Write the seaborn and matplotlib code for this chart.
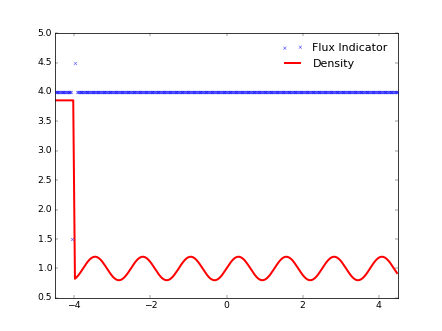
import numpy as np
import pandas as pd
import matplotlib
matplotlib.use("Agg")
import matplotlib.pyplot as plt
import seaborn as sns

plt.style.use("classic")

# cell centres of a 200-cell grid on [-4.5, 4.5] for density
x_density = np.linspace(-4.4775, 4.4775, 200)
# cell centres of a 400-cell grid for the flux indicator
x_flux = np.linspace(-4.48875, 4.48875, 400)

density_milli = [3857] * 11 + [
    825,851,885,924,968,1012,1057,1098,1134,1164,1185,1197,1200,1192,1174,1148,1114,1074,1031,986,942,901,864,835,814,802,801,809,827,854,888,927,971,1016,1060,1101,1137,1166,1187,1198,1199,1191,1172,1145,1111,1071,1027,983,939,898,862,833,813,802,801,810,829,856,891,931,974,1019,1063,1104,1139,1168,1188,1198,1199,1190,1171,1143,1108,1068,1024,979,935,895,859,831,812,801,801,811,830,858,893,934,978,1022,1066,1107,1142,1170,1189,1199,1199,1188,1169,1141,1105,1065,1021,976,932,892,857,829,810,801,802,812,832,861,896,937,981,1026,1069,1109,1144,1171,1190,1199,1198,1187,1167,1138,1102,1061,1017,973,929,889,855,828,809,801,802,813,834,863,899,940,984,1029,1073,1112,1146,1173,1191,1199,1198,1186,1165,1136,1099,1058,1014,969,926,886,852,826,808,800,803,815,836,866,902,943,988,1032,1076,1115,1149,1175,1192,1200,1197,1185,1163,1133,1097,1055,1011,966,923]
density = [v / 1000.0 for v in density_milli]

nan = float("nan")
flux = [4.0] * 19 + [1.5, nan, nan, nan, 4.5, nan] + [4.0] * 375

n = min(len(density), len(x_density))
df_d = pd.DataFrame({"x": x_density[:n], "rho": density[:n]})
df_f = pd.DataFrame({"x": x_flux, "flux": flux[:400]})

fig = plt.figure(figsize=(442 / 55.25, 331 / 55.25), dpi=55.25)
ax = fig.add_subplot(111)

sns.scatterplot(data=df_f, x="x", y="flux", ax=ax, marker="x", color="b",
                s=16, linewidth=0.8, alpha=0.6, label="Flux Indicator",
                zorder=3)
sns.lineplot(data=df_d, x="x", y="rho", ax=ax, color="r", linewidth=2.6,
             label="Density")

ax.set_xlim(-4.5, 4.5)
ax.set_ylim(0.5, 5.0)
ax.set_xticks([-4, -2, 0, 2, 4])
ax.set_yticks(np.arange(0.5, 5.01, 0.5))
ax.set_xlabel("")
ax.set_ylabel("")
ax.legend(loc="upper right", frameon=False, numpoints=2, scatterpoints=2)

fig.savefig("out.png", dpi=55.25)
